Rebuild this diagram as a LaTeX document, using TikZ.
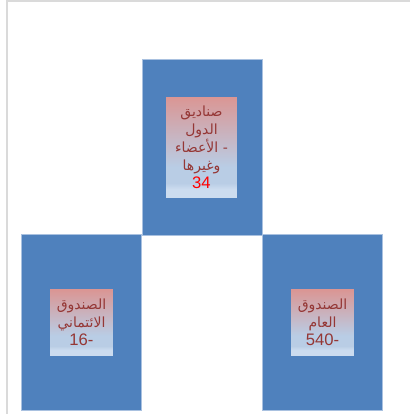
\documentclass[tikz,border=0pt]{standalone}
\usepackage{fontspec}
\setmainfont{Liberation Sans}
\newfontfamily\arabicfont[Script=Arabic]{DejaVu Sans}
\TeXXeTstate=1
\definecolor{fundblue}{HTML}{4F81BD}
\definecolor{fundedge}{HTML}{A9C1E0}
\definecolor{labelred}{HTML}{953735}
\definecolor{pinktop}{HTML}{DA9694}
\definecolor{bluemid}{HTML}{B9CDE5}
\definecolor{lightbot}{HTML}{CCDCEF}
\definecolor{framegray}{HTML}{DADADA}
\pgfdeclareverticalshading{labelshade}{100bp}{color(0bp)=(lightbot); color(25bp)=(lightbot); color(29bp)=(lightbot); color(32bp)=(bluemid); color(40bp)=(bluemid); color(75bp)=(pinktop); color(100bp)=(pinktop)}
\newcommand{\artext}[1]{\mbox{\arabicfont\beginR #1\endR}}

\begin{document}
\begin{tikzpicture}[
    x=0.75pt, y=-0.75pt,
    fundbox/.style={rectangle, draw=fundedge, line width=0.75pt, fill=fundblue, minimum width=90pt, minimum height=132pt, inner sep=0pt},
    labelbox/.style={rectangle, shading=labelshade, text=labelred, align=center, inner sep=0pt, font=\fontsize{10.5}{13.5}\selectfont}
]
    \useasboundingbox (0,0) rectangle (410,414);
    \draw[framegray, line width=1.5pt] (6.5,414) -- (6.5,0.5) -- (410,0.5);

    % the three funds
    \node[fundbox] (member) at (202,147) {};
    \node[fundbox] (social) at (81,322) {};
    \node[fundbox] (general) at (322,322) {};

    % labels
    \node[labelbox, minimum width=53pt, minimum height=75pt] (memberlabel) at (201.5,147)
        {\artext{صناديق}\\ \artext{الدول}\\ \artext{- الأعضاء}\\ \artext{وغيرها}\\ {\fontsize{12.5}{13.5}\selectfont\color{red}34}};
    \node[labelbox, minimum width=47pt, minimum height=49pt] (sociallabel) at (81.5,322.5)
        {\artext{الصندوق}\\ \artext{الائتماني}\\ {\fontsize{12.5}{13.5}\selectfont 16-}};
    \node[labelbox, minimum width=47pt, minimum height=49pt] (generallabel) at (322.5,322.5)
        {\artext{الصندوق}\\ \artext{العام}\\ {\fontsize{12.5}{13.5}\selectfont 540-}};
\end{tikzpicture}
\end{document}
